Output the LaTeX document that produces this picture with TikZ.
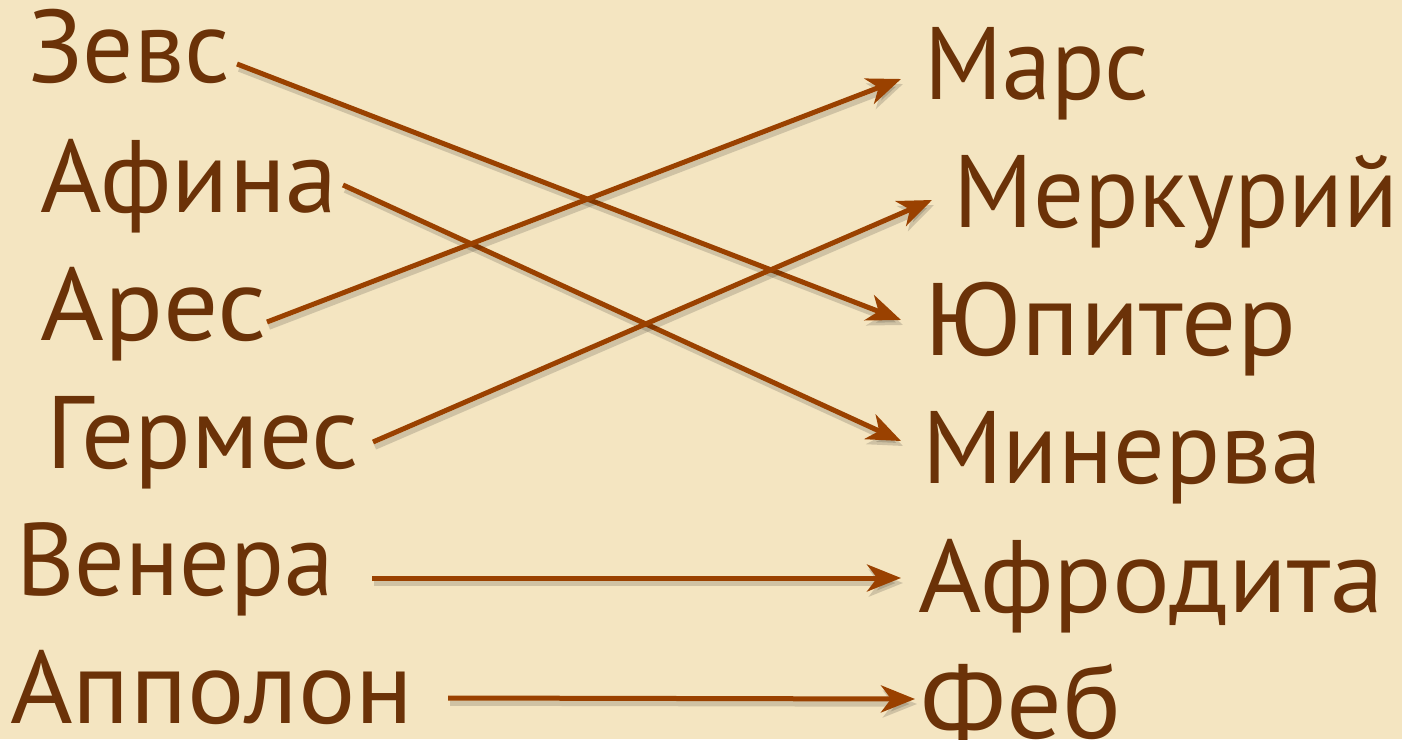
\documentclass[tikz,border=0pt]{standalone}
\usepackage{fontspec}
\usepackage{graphicx}
\setmainfont{PT Sans}
\usetikzlibrary{arrows.meta}
\definecolor{bgc}{HTML}{F4E5C1}
\definecolor{txt}{HTML}{6B3208}
\definecolor{arr}{HTML}{9A4100}
\newcommand{\hsq}[2]{\scalebox{#1}[1]{#2}}
\tikzset{
  god/.style={anchor=base west, inner sep=0pt, text=txt, font=\fontsize{103}{110}\selectfont},
  link/.style={draw=arr, line width=5pt, -{Stealth[length=34pt,width=27pt,inset=10pt]},
    preaction={draw=black, opacity=0.15, line width=5.5pt, transform canvas={shift={(2pt,-5pt)}}}}
}
\begin{document}
\begin{tikzpicture}[x=1pt,y=-1pt]
\fill[bgc] (0,0) rectangle (1402,739);
\useasboundingbox (0,0) rectangle (1402,739);
% left
\node[god] (zevs) at (28,82) {\hsq{0.98}{Зевс}};
\node[god] (afina) at (40,212) {\hsq{1.02}{Афина}};
\node[god] (ares) at (40,340) {\hsq{1.06}{Арес}};
\node[god] (germes) at (46,468) {\hsq{1.02}{Гермес}};
\node[god] (venera) at (16,595) {\hsq{0.97}{Венера}};
\node[god] (apollon) at (10,723) {\hsq{1.04}{Апполон}};
% right
\node[god] (mars) at (924,99) {\hsq{0.96}{Марс}};
\node[god] (merk) at (953,227) {\hsq{0.98}{Меркурий}};
\node[god] (jup) at (924,355) {\hsq{1.06}{Юпитер}};
\node[god] (min) at (922,483) {\hsq{0.99}{Минерва}};
\node[god] (afro) at (918,612) {\hsq{1.05}{Афродита}};
\node[god] (feb) at (920,738) {\hsq{1.07}{Феб}};
% connector ends
\coordinate (s1) at (237,64);
\coordinate (s2) at (343,185);
\coordinate (s3) at (267,322);
\coordinate (s4) at (373,442);
\coordinate (s5) at (372,578);
\coordinate (s6) at (448,698);
\coordinate (t1) at (901,79);
\coordinate (t2) at (932,200);
\coordinate (t3) at (901,320);
\coordinate (t4) at (901,441);
\coordinate (t5) at (901,578);
\coordinate (t6) at (915,699);
\draw[link] (s1) -- (t3);
\draw[link] (s2) -- (t4);
\draw[link] (s3) -- (t1);
\draw[link] (s4) -- (t2);
\draw[link] (s5) -- (t5);
\draw[link] (s6) -- (t6);
\end{tikzpicture}
\end{document}
